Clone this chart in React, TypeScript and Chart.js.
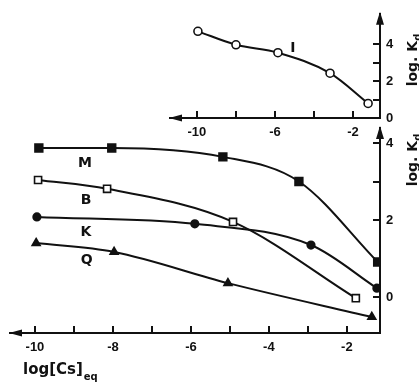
import React, { useEffect, useRef } from 'react';
import { Chart, registerables } from 'chart.js';

Chart.register(...registerables);

const W = 419;
const H = 382;

// ---------- main panel ----------
const mainXTicks = [-10, -9, -8, -7, -6, -5, -4, -3, -2];
const mainXTickLabels = ['-10', '', '-8', '', '-6', '', '-4', '', '-2'];
const mainYTicks = [0, 1, 2, 3, 4];
const mainYTickLabels = ['0', '', '2', '', '4'];

const seriesM_x = [-9.9, -8.03, -5.18, -3.23, -1.21];
const seriesM_y = [3.87, 3.87, 3.64, 3.0, 0.91];
const seriesB_x = [-9.92, -8.15, -4.92, -1.77];
const seriesB_y = [3.04, 2.81, 1.95, -0.03];
const seriesK_x = [-9.95, -5.9, -2.92, -1.23];
const seriesK_y = [2.08, 1.9, 1.35, 0.23];
const seriesQ_x = [-9.97, -7.97, -5.05, -1.36];
const seriesQ_y = [1.4, 1.17, 0.36, -0.52];

const curveNames = ['M', 'B', 'K', 'Q'];
const curveNameX = [-8.72, -8.69, -8.69, -8.67];
const curveNameY = [3.47, 2.52, 1.69, 0.96];

// ---------- inset panel ----------
const insetXTicks = [-10, -8, -6, -4, -2];
const insetXTickLabels = ['-10', '', '-6', '', '-2'];
const insetYTicks = [0, 1, 2, 3, 4];
const insetYTickLabels = ['0', '', '2', '', '4'];

const seriesI_x = [-9.95, -8.0, -5.85, -3.18, -1.23];
const seriesI_y = [4.7, 3.97, 3.54, 2.43, 0.79];

const insetNames = ['I'];
const insetNameX = [-5.08];
const insetNameY = [3.78];

const INK = '#111';
const TICK_FONT = { family: '"Liberation Sans", Arial, sans-serif', size: 13, weight: 'bold' as const };

function pts(xs: number[], ys: number[]) {
  return xs.map((x, i) => ({ x, y: ys[i] }));
}

function decoPlugin(cfg: {
  xTicks: number[];
  yTicks: number[];
  names: string[];
  nameX: number[];
  nameY: number[];
  yTitleCenter: number;
  xTitle: boolean;
}) {
  return {
    id: 'deco',
    afterDraw(chart: any) {
      const ctx = chart.ctx as CanvasRenderingContext2D;
      const { left, right, top, bottom } = chart.chartArea;
      const xs = chart.scales.x;
      const ys = chart.scales.y;
      ctx.save();
      ctx.strokeStyle = INK;
      ctx.fillStyle = INK;
      ctx.lineWidth = 2;
      // inward tick marks
      ctx.beginPath();
      cfg.xTicks.forEach((v) => {
        const px = Math.round(xs.getPixelForValue(v));
        ctx.moveTo(px, bottom);
        ctx.lineTo(px, bottom - 7);
      });
      cfg.yTicks.forEach((v) => {
        const py = Math.round(ys.getPixelForValue(v));
        ctx.moveTo(right, py);
        ctx.lineTo(right - 7, py);
      });
      ctx.stroke();
      // arrows
      ctx.beginPath();
      ctx.moveTo(left - 1, bottom);
      ctx.lineTo(left + 12, bottom - 3.5);
      ctx.lineTo(left + 12, bottom + 3.5);
      ctx.closePath();
      ctx.fill();
      ctx.beginPath();
      ctx.moveTo(right, top - 2);
      ctx.lineTo(right - 4, top + 11);
      ctx.lineTo(right + 4, top + 11);
      ctx.closePath();
      ctx.fill();
      // curve names
      ctx.font = 'bold 14px "DejaVu Sans", sans-serif';
      ctx.textAlign = 'center';
      ctx.textBaseline = 'middle';
      cfg.names.forEach((n, i) => {
        ctx.fillText(n, xs.getPixelForValue(cfg.nameX[i]), ys.getPixelForValue(cfg.nameY[i]));
      });
      // rotated y title
      ctx.save();
      ctx.translate(412, cfg.yTitleCenter);
      ctx.rotate(-Math.PI / 2);
      ctx.textAlign = 'left';
      ctx.textBaseline = 'alphabetic';
      ctx.font = 'bold 14px "DejaVu Sans", sans-serif';
      const w1 = ctx.measureText('log. K').width;
      ctx.font = 'bold 10px "DejaVu Sans", sans-serif';
      const w2 = ctx.measureText('d').width;
      const start = -(w1 + w2) / 2;
      ctx.font = 'bold 14px "DejaVu Sans", sans-serif';
      ctx.fillText('log. K', start, 5);
      ctx.font = 'bold 10px "DejaVu Sans", sans-serif';
      ctx.fillText('d', start + w1, 9);
      ctx.restore();
      // x title
      if (cfg.xTitle) {
        ctx.textAlign = 'left';
        ctx.textBaseline = 'alphabetic';
        ctx.font = 'bold 15px "DejaVu Sans", sans-serif';
        const t = 'log[Cs]';
        ctx.fillText(t, 23, 374);
        const tw = ctx.measureText(t).width;
        ctx.font = 'bold 10px "DejaVu Sans", sans-serif';
        ctx.fillText('eq', 23 + tw + 1, 380);
      }
      ctx.restore();
    },
  };
}

function scaleX(min: number, max: number, ticks: number[], labels: string[], h: number) {
  return {
    type: 'linear' as const,
    position: 'bottom' as const,
    min,
    max,
    afterBuildTicks: (s: any) => {
      s.ticks = ticks.map((v) => ({ value: v }));
    },
    afterFit: (s: any) => {
      s.height = h;
    },
    grid: { display: true, drawOnChartArea: false, drawTicks: false },
    border: { display: true, color: INK, width: 2 },
    ticks: {
      autoSkip: false,
      maxRotation: 0,
      padding: 7,
      color: INK,
      font: TICK_FONT,
      callback: (_v: any, i: number) => labels[i],
    },
  };
}

function scaleY(min: number, max: number, ticks: number[], labels: string[]) {
  return {
    type: 'linear' as const,
    position: 'right' as const,
    min,
    max,
    afterBuildTicks: (s: any) => {
      s.ticks = ticks.map((v) => ({ value: v }));
    },
    afterFit: (s: any) => {
      s.width = W - 380;
    },
    grid: { display: true, drawOnChartArea: false, drawTicks: false },
    border: { display: true, color: INK, width: 2 },
    ticks: {
      autoSkip: false,
      padding: 6,
      color: INK,
      font: TICK_FONT,
      callback: (_v: any, i: number) => labels[i],
    },
  };
}

function ds(data: any[], style: string, fill: string, radius: number) {
  return {
    data,
    borderColor: INK,
    borderWidth: 2,
    pointStyle: style,
    pointRadius: radius,
    pointBackgroundColor: fill,
    pointBorderColor: INK,
    pointBorderWidth: 1.6,
    cubicInterpolationMode: 'monotone' as const,
    fill: false,
  };
}

export default function App() {
  const mainRef = useRef<HTMLCanvasElement | null>(null);
  const insetRef = useRef<HTMLCanvasElement | null>(null);

  useEffect(() => {
    const main = new Chart(mainRef.current!, {
      type: 'line',
      data: {
        datasets: [
          ds(pts(seriesM_x, seriesM_y), 'rect', INK, 5.5),
          ds(pts(seriesB_x, seriesB_y), 'rect', '#fff', 5),
          ds(pts(seriesK_x, seriesK_y), 'circle', INK, 3.8),
          ds(pts(seriesQ_x, seriesQ_y), 'triangle', INK, 4.6),
        ] as any,
      },
      options: {
        responsive: false,
        animation: false,
        devicePixelRatio: 1,
        layout: { padding: { left: 10, top: 128, right: 0, bottom: 0 } },
        plugins: { legend: { display: false }, tooltip: { enabled: false } },
        events: [],
        scales: {
          x: scaleX(-10.64, -1.15, mainXTicks, mainXTickLabels, H - 333),
          y: scaleY(-0.935, 4.39, mainYTicks, mainYTickLabels),
        } as any,
      },
      plugins: [
        decoPlugin({
          xTicks: mainXTicks,
          yTicks: mainYTicks,
          names: curveNames,
          nameX: curveNameX,
          nameY: curveNameY,
          yTitleCenter: 160,
          xTitle: true,
        }),
      ],
    });

    const inset = new Chart(insetRef.current!, {
      type: 'line',
      data: {
        datasets: [ds(pts(seriesI_x, seriesI_y), 'circle', '#fff', 4)] as any,
      },
      options: {
        responsive: false,
        animation: false,
        devicePixelRatio: 1,
        layout: { padding: { left: 170, top: 12, right: 0, bottom: 0 } },
        plugins: { legend: { display: false }, tooltip: { enabled: false } },
        events: [],
        scales: {
          x: scaleX(-11.38, -0.62, insetXTicks, insetXTickLabels, H - 118),
          y: scaleY(0, 5.65, insetYTicks, insetYTickLabels),
        } as any,
      },
      plugins: [
        decoPlugin({
          xTicks: insetXTicks,
          yTicks: insetYTicks,
          names: insetNames,
          nameX: insetNameX,
          nameY: insetNameY,
          yTitleCenter: 60,
          xTitle: false,
        }),
      ],
    });

    return () => {
      main.destroy();
      inset.destroy();
    };
  }, []);

  const cv: React.CSSProperties = { position: 'absolute', left: 0, top: 0, width: W, height: H };
  return (
    <div style={{ position: 'absolute', left: 0, top: 0, width: W, height: H, background: '#fff', overflow: 'hidden' }}>
      <canvas ref={mainRef} width={W} height={H} style={cv} />
      <canvas ref={insetRef} width={W} height={H} style={cv} />
    </div>
  );
}
